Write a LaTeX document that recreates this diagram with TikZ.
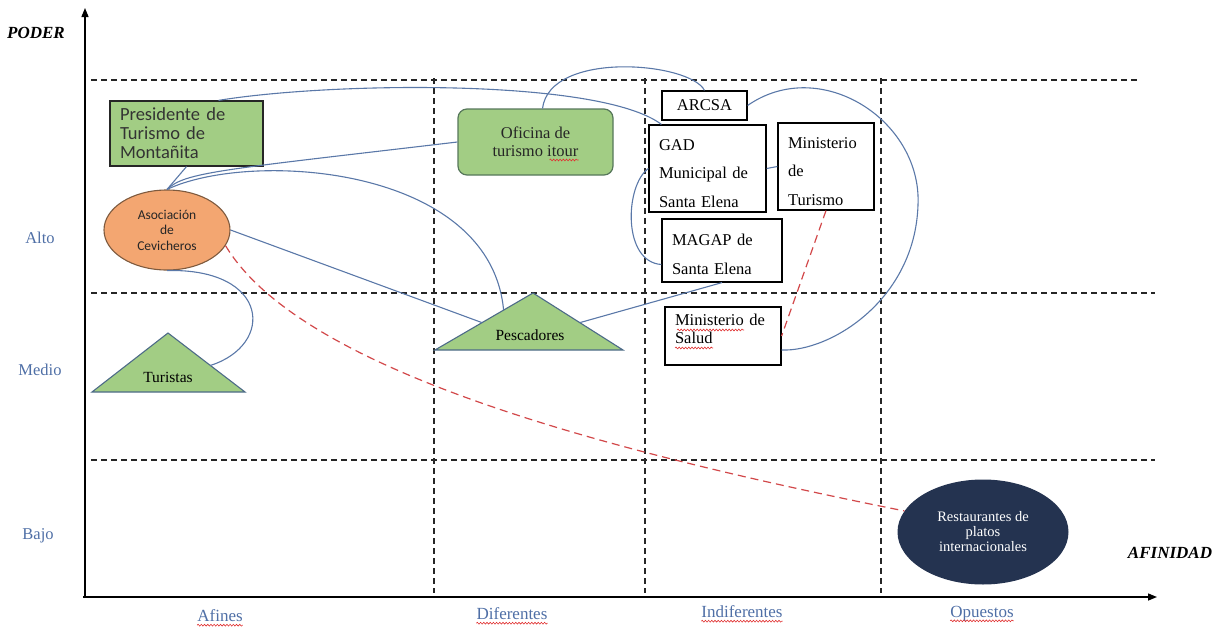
\documentclass[tikz,border=0pt]{standalone}
\usepackage{fontspec}
\setmainfont{Liberation Serif}
\newfontfamily\calibri{Carlito}
\usetikzlibrary{arrows.meta, positioning, calc, shapes.geometric, decorations.pathmorphing}

\definecolor{labelblue}{HTML}{4F6FA6}
\definecolor{linkblue}{HTML}{5A78A8}
\definecolor{conflictred}{HTML}{D2484A}
\definecolor{leafgreen}{HTML}{A2CD84}
\definecolor{trianglerim}{HTML}{4D6B88}
\definecolor{officerim}{HTML}{56775A}
\definecolor{peach}{HTML}{F3A671}
\definecolor{peachrim}{HTML}{7E5A3E}
\definecolor{navy}{HTML}{243350}
\definecolor{spellred}{HTML}{E03030}

% invisible struts to set the text a bit lower / higher in its box
\newcommand\toppad[1]{\rule{0pt}{#1}}
\newcommand\botpad[1]{\rule[-#1]{0pt}{#1}}

\begin{document}
\begin{tikzpicture}[x=1pt, y=-1pt,
  grid/.style={line width=1.2pt, black!85, dash pattern=on 6pt off 4pt},
  axis/.style={line width=1.4pt, -{Triangle[length=9pt, width=7pt]}},
  link/.style={linkblue, line width=1.1pt},
  conflict/.style={conflictred, line width=1.2pt, dash pattern=on 8pt off 5pt},
  spell/.style={spellred, line width=0.6pt, decorate,
    decoration={snake, amplitude=0.9pt, segment length=3.2pt}},
  level/.style={text=labelblue, font=\fontsize{16.5}{18}\selectfont},
  category/.style={text=labelblue, font=\fontsize{17}{19}\selectfont,
    text depth=0pt, inner xsep=0pt, inner ysep=3pt},
  axistitle/.style={font=\bfseries\itshape\fontsize{17}{19}\selectfont},
  actorbox/.style={draw, line width=1.2pt, fill=white, inner xsep=10pt, inner ysep=0pt,
    align=left, font=\fontsize{16.5}{28.5}\selectfont},
  tri/.style={draw=trianglerim, line width=1.1pt, fill=leafgreen},
  trilabel/.style={font=\fontsize{15.5}{17}\selectfont, inner sep=1pt}]

  \useasboundingbox (0,0) rectangle (1219,632);

  % grid of the matrix
  \foreach \y/\e in {80/1140, 293/1155, 460/1155}
    \draw[grid] (91,\y) -- (\e,\y);
  \foreach \x in {434, 645, 881}
    \draw[grid] (\x,78) -- (\x,593);

  % axes
  \coordinate (origin) at (85,598);
  \coordinate (ytip) at (85,8);
  \coordinate (xstart) at (83,597);
  \coordinate (xtip) at (1157,597);
  \draw[axis] (origin) -- (ytip);
  \draw[axis] (xstart) -- (xtip);
  \node[axistitle] (poder) at (36,33) {PODER};
  \node[axistitle] (afinidad) at (1170,553) {AFINIDAD};

  \node[level] (alto) at (40,238) {Alto};
  \node[level] (medio) at (40,370) {Medio};
  \node[level] (bajo) at (38,536) {Bajo};

  \node[category] (afines) at (220,616) {Afines};
  \node[category] (diferentes) at (512,614) {Diferentes};
  \node[category] (indiferentes) at (742,612) {Indiferentes};
  \node[category] (opuestos) at (982,612) {Opuestos};
  \foreach \c in {afines, diferentes, indiferentes, opuestos}
    \draw[spell] (\c.south west) -- (\c.south east);

  % triangles
  \draw[tri] (92,392) coordinate (turBL) -- (168,333) coordinate (turTop)
    -- (245,392) coordinate (turBR) -- cycle;
  \node[trilabel] (turistas) at (168,377) {Turistas};
  \draw[tri] (435,350) coordinate (pesBL) -- (533,293) coordinate (pesTop)
    -- (623,350) coordinate (pesBR) -- cycle;
  \node[trilabel] (pescadores) at (530,335) {Pescadores};
  \coordinate (turR) at ($(turTop)!0.55!(turBR)$);
  \coordinate (pesUpperL) at ($(pesTop)!0.3!(pesBL)$);
  \coordinate (pesLowerL) at ($(pesTop)!0.52!(pesBL)$);
  \coordinate (pesR) at ($(pesTop)!0.52!(pesBR)$);

  % actors
  \node[draw=black!85, line width=1.2pt, fill=leafgreen, text=black!80, align=left,
    inner xsep=10pt, inner ysep=0pt, text width=133pt, minimum height=65pt,
    font=\calibri\fontsize{18.5}{19}\selectfont] (presidente) at (186.5,133.5)
    {Presidente de\\Turismo de\\Montañita};
  \node[ellipse, draw=peachrim, line width=1.1pt, fill=peach, text=black!85,
    minimum width=126pt, minimum height=80pt, inner sep=0pt, align=center,
    font=\calibri\fontsize{13.5}{15.5}\selectfont] (ceviche) at (167,230)
    {Asociación\\de\\Cevicheros};
  \node[draw=officerim, line width=1.2pt, fill=leafgreen, rounded corners=9pt,
    minimum width=155pt, minimum height=66pt, align=center, text=black!85,
    font=\fontsize{16.5}{18}\selectfont] (oficina) at (535.5,142)
    {Oficina de\\turismo itour};
  \node[actorbox, align=center, minimum width=85pt, minimum height=29pt] (arcsa)
    at (704.5,105.5) {ARCSA};
  \node[actorbox, text width=97pt, minimum height=87pt] (gad) at (707.5,168.5)
    {\toppad{21pt}GAD\\Municipal de\\Santa Elena};
  \node[actorbox, text width=76pt, minimum height=87pt] (mintur) at (826,166.5)
    {\toppad{20.5pt}Ministerio\\de\\Turismo};
  \node[actorbox, text width=100pt, minimum height=63pt] (magap) at (722,250.5)
    {\toppad{19pt}MAGAP de\\Santa Elena};
  \node[actorbox, text width=96pt, minimum height=58pt,
    font=\fontsize{16.5}{18}\selectfont] (minsalud) at (723,336)
    {Ministerio de\\Salud\botpad{14pt}};
  \node[ellipse, fill=navy, text=white, minimum width=171pt, minimum height=105pt,
    inner sep=0pt, align=center, font=\fontsize{14.5}{15}\selectfont] (rest)
    at (983,532) {Restaurantes de\\platos\\internacionales};

  % spell marks inside the boxes
  \draw[spell] ($(oficina.center)+(14,18)$) -- ($(oficina.center)+(43,18)$);
  \draw[spell] ($(minsalud.center)+(-46,-6)$) -- ($(minsalud.center)+(21,-6)$);
  \draw[spell] ($(minsalud.center)+(-48,12)$) -- ($(minsalud.center)+(-10,12)$);

  % relations
  \draw[link] (ceviche.north) -- (presidente.south);
  \draw[link] (ceviche.north) .. controls (185,172) and (220,170) .. (oficina.west);
  \draw[link] (ceviche.north) .. controls (250,150) and (490,165) .. (pesUpperL);
  \draw[link] ([xshift=32pt]presidente.north) .. controls (330,82) and (600,78) .. ([xshift=13pt]gad.north west);
  \draw[link] ([xshift=7pt]oficina.north) .. controls (550,50) and (690,62) .. (arcsa.north);
  \draw[link] (ceviche.east) -- (pesLowerL);
  \draw[link] (ceviche.south) .. controls (270,268) and (275,345) .. (turR);
  \draw[link] (magap.south) -- (pesR);
  \draw[link] (gad.east) -- (mintur.west);
  \draw[link] (gad.west) .. controls (625,185) and (622,262) .. ([yshift=-14pt]magap.west);
  \draw[link] (arcsa.east) .. controls (820,55) and (922,120) .. (918,205)
    .. controls (915,300) and (830,352) .. ([yshift=-14pt]minsalud.east);

  % conflicts
  \draw[conflict] (ceviche.-15) .. controls (300,370) and (600,450) .. (rest.165);
  \draw[conflict] (mintur.south) -- (minsalud.east);
\end{tikzpicture}
\end{document}
